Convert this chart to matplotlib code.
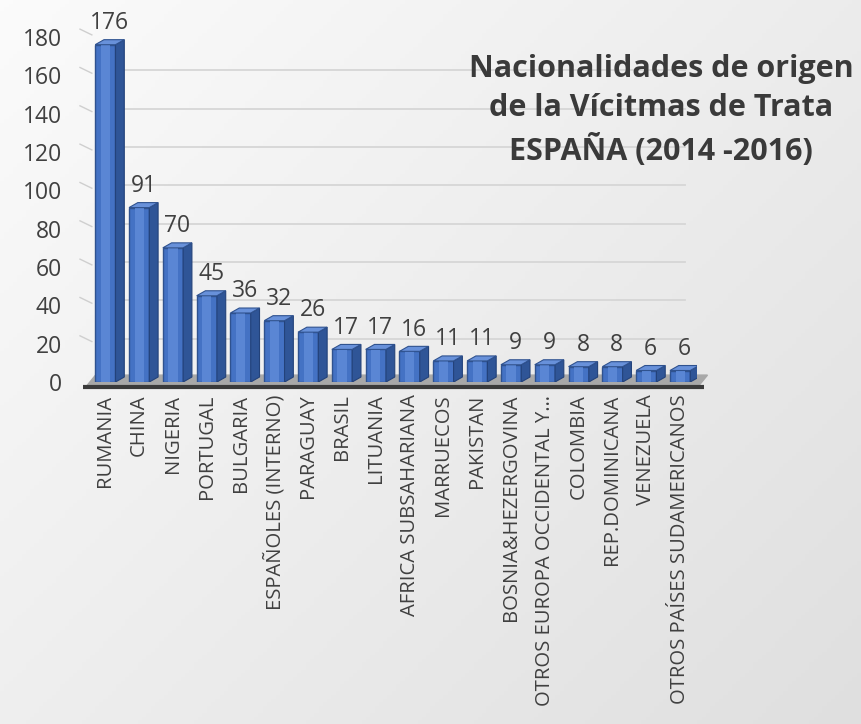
import numpy as np
import matplotlib.pyplot as plt

# ── DATA ──────────────────────────────────────────────────────────────────────
countries = ["RUMANIA", "CHINA", "NIGERIA", "PORTUGAL", "BULGARIA",
             "ESPAÑOLES (INTERNO)", "PARAGUAY", "BRASIL", "LITUANIA",
             "AFRICA SUBSAHARIANA", "MARRUECOS", "PAKISTAN",
             "BOSNIA&HEZERGOVINA", "OTROS EUROPA OCCIDENTAL Y…", "COLOMBIA",
             "REP.DOMINICANA", "VENEZUELA", "OTROS PAÍSES SUDAMERICANOS"]
victims = [176, 91, 70, 45, 36, 32, 26, 17, 17, 16, 11, 11, 9, 9, 8, 8, 6, 6]
y_ticks = [0, 20, 40, 60, 80, 100, 120, 140, 160, 180]
title = "Nacionalidades de origen\nde la Vícitmas de Trata\nESPAÑA (2014 -2016)"

plt.rcParams["font.family"] = ["Open Sans", "DejaVu Sans"]
TXT = "#404040"

fig = plt.figure(figsize=(8.61, 7.24), dpi=100)

# ── background gradient (light top-left → grey bottom-right) ─────────────────
bg = fig.add_axes([0, 0, 1, 1], zorder=-10)
gx, gy = np.meshgrid(np.linspace(0, 1, 200), np.linspace(0, 1, 200))
shade = 0.985 - 0.06 * gx - 0.05 * gy
bg.imshow(np.dstack([shade] * 3), aspect="auto", extent=[0, 1, 0, 1], origin="upper")
bg.axis("off")

# ── main axes ─────────────────────────────────────────────────────────────────
ax = fig.add_axes([80 / 861, 1 - 382 / 724, 617 / 861, 345 / 724])
ax.patch.set_alpha(0)
x = np.arange(len(countries))
ax.set_xlim(-0.75, len(countries) - 0.5)
ax.set_ylim(0, 180)

w, dx, dy = 0.6, 0.26, 2.6   # front width and 3D depth offsets (data units)

# back wall gridlines
for t in y_ticks[1:]:
    ax.plot([-0.2, len(countries) - 0.85], [t + dy, t + dy], color="#d6d6d6", lw=1.3, zorder=1)
    ax.plot([-0.75, -0.4], [t + dy + 1.5, t + dy - 1.5], color="#cfcfcf", lw=1.0, zorder=1, clip_on=False)

# floor
x0, x1 = -0.55, len(countries) - 0.45
ax.fill([x0, x1, x1 + dx, x0 + dx], [-2, -2, dy + 1, dy + 1], color="#a8a8a8", zorder=2, clip_on=False)
ax.plot([x0 - 0.1, x1 + 0.15], [-2.5, -2.5], color="#3a3a3a", lw=3, zorder=3, clip_on=False, solid_capstyle="butt")

# bars: front, side and top faces
ax.bar(x, victims, width=w, color="#4472c4", edgecolor="#2f528f", lw=1.0, zorder=4)
ax.bar(x, victims, width=w * 0.45, color="#5a86d4", lw=0, zorder=4.5)
for xi, v in zip(x, victims):
    r = xi + w / 2
    l = xi - w / 2
    ax.fill([r, r + dx, r + dx, r], [0, dy, v + dy, v], color="#2f5597", ec="#23427a", lw=0.8, zorder=5)
    ax.fill([l, r, r + dx, l + dx], [v, v, v + dy, v + dy], color="#6891da", ec="#2f528f", lw=0.8, zorder=5)
    ax.text(xi + dx / 2, v + dy + 2.5, str(v), ha="center", va="bottom", fontsize=16.5, color=TXT, zorder=6)

ax.set_yticks(y_ticks)
ax.set_xticks(x)
ax.set_xticklabels(countries, rotation=90, fontsize=14.6, color=TXT)
ax.tick_params(axis="y", labelsize=16.5, labelcolor=TXT, length=0, pad=13)
ax.tick_params(axis="x", length=0, pad=9)
for s in ax.spines.values():
    s.set_visible(False)

fig.text(0.768, 0.925, title, ha="center", va="top", fontsize=22, fontweight="bold",
         color="#3a3a3a", linespacing=1.4)

fig.savefig("out.png", dpi=100)
